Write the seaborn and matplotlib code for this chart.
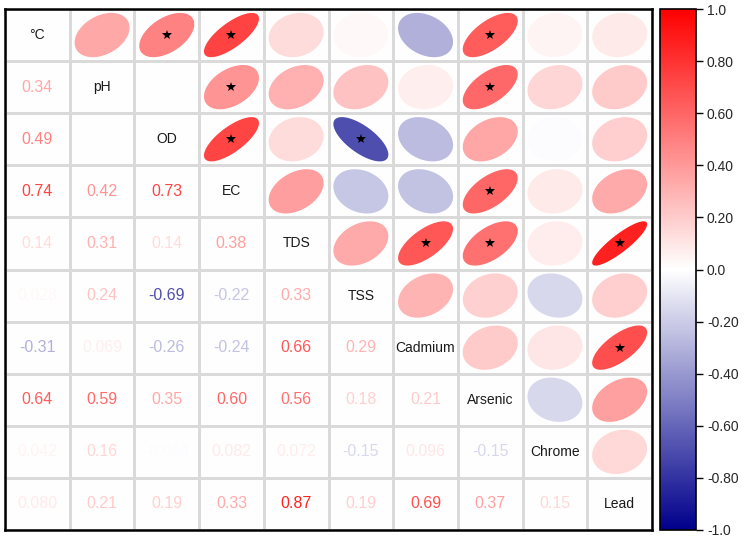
import numpy as np
import pandas as pd
import matplotlib
matplotlib.use("Agg")
import matplotlib.pyplot as plt
import seaborn as sns
from matplotlib.colors import LinearSegmentedColormap
from matplotlib.patches import Polygon

variables = ["°C", "pH", "OD", "EC", "TDS", "TSS", "Cadmium", "Arsenic", "Chrome", "Lead"]

corr_temp = [1.0, 0.34, 0.49, 0.74, 0.14, 0.028, -0.31, 0.64, 0.042, 0.080]
corr_ph   = [0.34, 1.0, 0.004, 0.42, 0.31, 0.24, 0.069, 0.59, 0.16, 0.21]
corr_od   = [0.49, 0.004, 1.0, 0.73, 0.14, -0.69, -0.26, 0.35, -0.014, 0.19]
corr_ec   = [0.74, 0.42, 0.73, 1.0, 0.38, -0.22, -0.24, 0.60, 0.082, 0.33]
corr_tds  = [0.14, 0.31, 0.14, 0.38, 1.0, 0.33, 0.66, 0.56, 0.072, 0.87]
corr_tss  = [0.028, 0.24, -0.69, -0.22, 0.33, 1.0, 0.29, 0.18, -0.15, 0.19]
corr_cd   = [-0.31, 0.069, -0.26, -0.24, 0.66, 0.29, 1.0, 0.21, 0.096, 0.69]
corr_as   = [0.64, 0.59, 0.35, 0.60, 0.56, 0.18, 0.21, 1.0, -0.15, 0.37]
corr_cr   = [0.042, 0.16, -0.014, 0.082, 0.072, -0.15, 0.096, -0.15, 1.0, 0.15]
corr_pb   = [0.080, 0.21, 0.19, 0.33, 0.87, 0.19, 0.69, 0.37, 0.15, 1.0]

significant_pairs = [("°C", "OD"), ("°C", "EC"), ("°C", "Arsenic"),
                     ("pH", "EC"), ("pH", "Arsenic"),
                     ("OD", "EC"), ("OD", "TSS"),
                     ("EC", "Arsenic"),
                     ("TDS", "Cadmium"), ("TDS", "Arsenic"), ("TDS", "Lead"),
                     ("Cadmium", "Lead")]

cbar_ticks = [1.0, 0.8, 0.6, 0.4, 0.2, 0.0, -0.2, -0.4, -0.6, -0.8, -1.0]
cbar_labels = ["1.0", "0.80", "0.60", "0.40", "0.20", "0.0", "-0.20", "-0.40", "-0.60", "-0.80", "-1.0"]

corr = pd.DataFrame([corr_temp, corr_ph, corr_od, corr_ec, corr_tds, corr_tss,
                     corr_cd, corr_as, corr_cr, corr_pb],
                    index=variables, columns=variables)

sns.set_style("white")
plt.rcParams["font.family"] = ["Liberation Sans", "DejaVu Sans"]

cmap = LinearSegmentedColormap.from_list("bwr_dark", ["#00008B", "#FFFFFF", "#FF0000"])

fig = plt.figure(figsize=(7.49, 5.39), dpi=100)
ax = fig.add_axes([0.0067, 0.0167, 0.8638, 0.9666])
cax = fig.add_axes([0.881, 0.0167, 0.048, 0.9666])

background = pd.DataFrame(np.zeros(corr.shape), index=variables, columns=variables)
sns.heatmap(background, ax=ax, cbar_ax=cax, cmap=cmap, vmin=-1, vmax=1,
            linewidths=0.8, linecolor="#dadada", xticklabels=False, yticklabels=False,
            cbar_kws={"ticks": cbar_ticks})

n = len(variables)
k = np.linspace(0, 2 * np.pi, 120)
for i in range(n):
    for j in range(n):
        r = corr.iloc[i, j]
        cx, cy = j + 0.5, i + 0.5
        if i == j:
            ax.text(cx, cy, variables[i], ha="center", va="center", fontsize=10, color="#1a1a1a")
        elif j > i:
            a = np.arccos(np.clip(r, -1, 1))
            ex = np.cos(k + a / 2) / 2
            ey = np.cos(k - a / 2) / 2
            pts = np.column_stack([cx + 0.85 * ex, cy - 0.85 * ey])
            ax.add_patch(Polygon(pts, closed=True, facecolor=cmap((r + 1) / 2),
                                 edgecolor="none", zorder=3))
            if (variables[i], variables[j]) in significant_pairs:
                ax.plot(cx, cy, marker="*", ms=7, color="black", mew=0, zorder=4)
        else:
            ax.text(cx, cy, f"{r:#.2g}", ha="center", va="center", fontsize=11.5,
                    color=cmap((r + 1) / 2))

for side in ["left", "right", "top", "bottom"]:
    ax.spines[side].set_visible(True)
    ax.spines[side].set_color("black")
    ax.spines[side].set_linewidth(1.8)

cax.set_yticks(cbar_ticks)
cax.set_yticklabels(cbar_labels)
cax.tick_params(axis="y", length=5, width=1, color="black", labelsize=10, pad=3, right=True)
cbar = ax.collections[0].colorbar
cbar.outline.set_edgecolor("black")
cbar.outline.set_linewidth(1.2)

fig.savefig("out.png", dpi=100)
